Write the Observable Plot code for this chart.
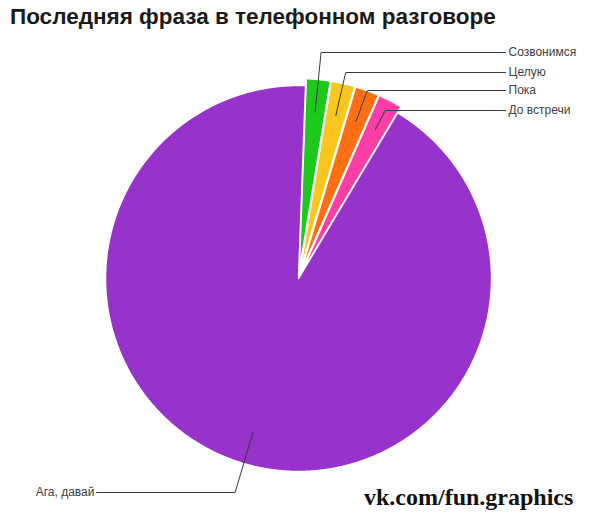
<!DOCTYPE html>
<html>
<head>
<meta charset="utf-8">
<script src="https://cdn.jsdelivr.net/npm/d3@7"></script>
<script src="https://cdn.jsdelivr.net/npm/@observablehq/plot@0.6"></script>
<style>
  html, body { margin: 0; padding: 0; background: #fff; }
  #wrap { position: relative; width: 600px; height: 530px; overflow: hidden; }
  #title { position: absolute; left: 10px; top: 4px; font-family: "Liberation Sans", Arial, sans-serif; font-weight: bold; font-size: 22.5px; color: #1a1a1a; white-space: nowrap; }
  #chart { position: absolute; left: 0; top: 40px; }
  #credit { position: absolute; left: 364px; top: 484px; font-family: "Liberation Serif", "DejaVu Serif", serif; font-weight: bold; font-size: 24px; color: #111; white-space: nowrap; }
</style>
</head>
<body>
<div id="wrap">
  <div id="title">Последняя фраза в телефонном разговоре</div>
  <div id="chart"></div>
  <div id="credit">vk.com/fun.graphics</div>
</div>
<script>
// ---- data ----
const labels = ["Созвонимся", "Целую", "Пока", "До встречи", "Ага, давай"];
const values = [2, 2, 2, 2, 92];
const colors = ["#1dc91d", "#f9c61e", "#fd6f12", "#fb3ea6", "#9733cb"];
const exploded = [true, true, true, true, false];

// ---- layout ----
const W = 600, H = 490;
const cx = 298, cy = 238, R = 193;   // pie centre / radius (svg px)
const explode = 7;
const startDeg = 2.1;
const labelY = [12, 32, 50, 70, 452]; // leader line elbow heights
const rightX = 505, leftX = 96;

const pie = d3.pie().sort(null).value(d => d.value)
  .startAngle(startDeg * Math.PI / 180)
  .endAngle((startDeg + 360) * Math.PI / 180);
const arcs = pie(labels.map((l, i) => ({label: l, value: values[i], ex: exploded[i]})));

const poly = [];
const leaders = [];
const texts = [];
arcs.forEach((a, i) => {
  const mid = (a.startAngle + a.endAngle) / 2;
  const dx = Math.sin(mid), dy = -Math.cos(mid);
  const ox = cx + (a.data.ex ? explode * dx : 0);
  const oy = cy + (a.data.ex ? explode * dy : 0);
  poly.push({label: a.data.label, x: ox, y: oy});
  const n = Math.max(4, Math.ceil((a.endAngle - a.startAngle) / 0.005));
  for (let k = 0; k <= n; k++) {
    const t = a.startAngle + (a.endAngle - a.startAngle) * k / n;
    poly.push({label: a.data.label, x: ox + R * Math.sin(t), y: oy - R * Math.cos(t)});
  }
  poly.push({label: a.data.label, x: ox, y: oy});
  // leader line
  const r0 = R * 0.83;
  const p0 = {x: ox + r0 * dx, y: oy + r0 * dy};
  const ly = labelY[i];
  const tt = (ly - oy) / dy;
  const p1 = {x: ox + tt * dx, y: ly};
  const right = dx > 0;
  const p2 = {x: right ? rightX : leftX, y: ly};
  [p0, p1, p2].forEach(p => leaders.push({label: a.data.label, ...p}));
  texts.push({label: a.data.label, x: right ? rightX + 3 : leftX - 2, y: ly, anchor: right ? "start" : "end"});
});

const chart = Plot.plot({
  width: W, height: H,
  margin: 0,
  x: {domain: [0, W], range: [0, W], axis: null},
  y: {domain: [0, H], range: [0, H], axis: null},
  color: {domain: labels, range: colors},
  marks: [
    Plot.line(poly, {x: "x", y: "y", z: "label", fill: "label", stroke: "#fff", strokeWidth: 1.5, curve: "linear"}),
    Plot.line(leaders, {x: "x", y: "y", z: "label", stroke: "#3a3a3a", strokeWidth: 1}),
    Plot.text(texts.filter(t => t.anchor === "start"), {x: "x", y: "y", text: "label", textAnchor: "start", fontSize: 12, fill: "#404040", fontFamily: "Liberation Sans, Arial, sans-serif"}),
    Plot.text(texts.filter(t => t.anchor === "end"), {x: "x", y: "y", text: "label", textAnchor: "end", fontSize: 12, fill: "#404040", fontFamily: "Liberation Sans, Arial, sans-serif"})
  ]
});
document.getElementById("chart").appendChild(chart);
</script>
</body>
</html>
